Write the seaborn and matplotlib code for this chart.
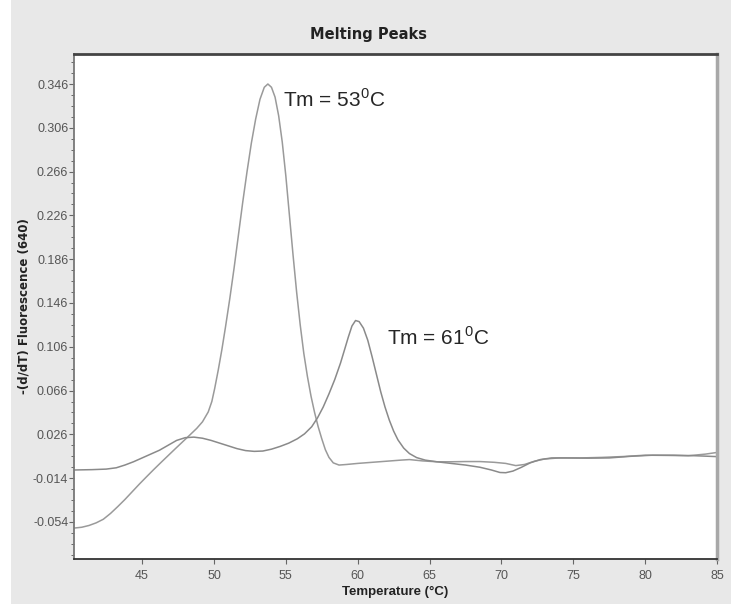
import numpy as np
import pandas as pd
import matplotlib
matplotlib.use("Agg")
import matplotlib.pyplot as plt
import seaborn as sns
from matplotlib.ticker import FixedLocator, MultipleLocator
from matplotlib.patches import Rectangle

# curve with the tall peak (Tm = 53 C)
temp_a = [40.3, 40.8, 41.3, 41.8, 42.3, 42.8, 43.3, 43.8, 44.3, 44.8,
          45.3, 45.8, 46.3, 46.8, 47.3, 47.8, 48.3, 48.8, 49.2, 49.6,
          49.85, 50.05, 50.3, 50.55, 50.8, 51.1, 51.4, 51.7, 52.0, 52.3,
          52.6, 52.9, 53.2, 53.5, 53.75, 54.0, 54.25, 54.5, 54.75, 55.0,
          55.25, 55.5, 55.75, 56.0, 56.25, 56.5, 56.75, 57.0, 57.25, 57.5,
          57.75, 58.0, 58.3, 58.7, 59.2, 60.0, 61.0, 62.0, 63.0, 63.6,
          64.5, 65.5, 66.5, 67.5, 68.5, 69.5, 70.3, 71.0, 71.6, 72.3,
          73.0, 74.0, 75.5, 77.0, 78.5, 80.0, 81.5, 83.0, 84.2, 85.0]
fluor_a = [-0.0595, -0.0588, -0.0572, -0.0548, -0.0515, -0.0462, -0.0400, -0.0335, -0.0265, -0.0195,
           -0.0128, -0.0062, 0.0002, 0.0065, 0.0128, 0.0190, 0.0252, 0.0315, 0.0375, 0.0465,
           0.0560, 0.0680, 0.0850, 0.1035, 0.1240, 0.1500, 0.1780, 0.2080, 0.2380, 0.2660,
           0.2920, 0.3140, 0.3320, 0.3430, 0.3460, 0.3430, 0.3340, 0.3170, 0.2930, 0.2620,
           0.2260, 0.1900, 0.1560, 0.1260, 0.1000, 0.0790, 0.0610, 0.0460, 0.0330, 0.0220,
           0.0120, 0.0050, 0.0000, -0.0020, -0.0015, -0.0005, 0.0005, 0.0015, 0.0025, 0.0030,
           0.0018, 0.0010, 0.0010, 0.0012, 0.0012, 0.0005, -0.0005, -0.0025, -0.0015, 0.0015,
           0.0035, 0.0045, 0.0045, 0.0050, 0.0058, 0.0070, 0.0068, 0.0065, 0.0080, 0.0095]

# curve with the lower peak (Tm = 61 C)
temp_b = [40.3, 41.5, 42.5, 43.2, 43.8, 44.4, 45.0, 45.6, 46.2, 46.8,
          47.4, 48.0, 48.6, 49.2, 49.8, 50.4, 51.0, 51.6, 52.2, 52.8,
          53.4, 54.0, 54.6, 55.2, 55.8, 56.3, 56.8, 57.2, 57.6, 58.0,
          58.4, 58.8, 59.1, 59.35, 59.6, 59.85, 60.1, 60.4, 60.7, 61.0,
          61.3, 61.6, 61.9, 62.2, 62.5, 62.8, 63.2, 63.6, 64.1, 64.7,
          65.5, 66.5, 67.5, 68.5, 69.3, 69.9, 70.3, 70.8, 71.4, 72.0,
          72.7, 73.5, 74.5, 76.0, 77.5, 79.0, 80.5, 82.0, 83.5, 85.0]
fluor_b = [-0.0065, -0.0062, -0.0057, -0.0045, -0.0020, 0.0010, 0.0045, 0.0080, 0.0115, 0.0160,
           0.0205, 0.0230, 0.0235, 0.0225, 0.0205, 0.0180, 0.0155, 0.0130, 0.0112, 0.0105,
           0.0108, 0.0125, 0.0150, 0.0180, 0.0220, 0.0265, 0.0330, 0.0410, 0.0510, 0.0630,
           0.0760, 0.0910, 0.1040, 0.1150, 0.1250, 0.1300, 0.1290, 0.1230, 0.1120, 0.0970,
           0.0810, 0.0650, 0.0510, 0.0390, 0.0290, 0.0210, 0.0135, 0.0085, 0.0048, 0.0025,
           0.0010, -0.0005, -0.0020, -0.0040, -0.0065, -0.0088, -0.0090, -0.0075, -0.0040, 0.0000,
           0.0030, 0.0045, 0.0045, 0.0043, 0.0045, 0.0060, 0.0070, 0.0070, 0.0065, 0.0057]

x_ticks = [45, 50, 55, 60, 65, 70, 75, 80, 85]
y_ticks = [-0.054, -0.014, 0.026, 0.066, 0.106, 0.146, 0.186, 0.226, 0.266, 0.306, 0.346]
y_labels = ["-0.054", "-0.014", "0.026", "0.066", "0.106", "0.146",
            "0.186", "0.226", "0.266", "0.306", "0.346"]

df = pd.concat([
    pd.DataFrame({"temp": temp_a, "fluor": fluor_a, "curve": "a"}),
    pd.DataFrame({"temp": temp_b, "fluor": fluor_b, "curve": "b"}),
])

sns.set_style("ticks")
plt.rcParams["font.family"] = ["Liberation Sans", "DejaVu Sans"]
plt.rcParams["mathtext.fontset"] = "custom"
plt.rcParams["mathtext.rm"] = "Liberation Sans"

bg = "#e8e8e8"
fig = plt.figure(figsize=(7.31, 6.04), dpi=100, facecolor=bg)
fig.patches.append(Rectangle((0, 0), 11 / 731, 1, transform=fig.transFigure,
                             facecolor="white", edgecolor="none", zorder=-1))
ax = fig.add_axes([74 / 731, 45 / 604, 643 / 731, 505 / 604])
ax.set_facecolor("white")

sns.lineplot(data=df, x="temp", y="fluor", hue="curve", sort=False,
             palette={"a": "#9a9a9a", "b": "#8a8a8a"}, linewidth=1.1,
             legend=False, ax=ax)

ax.set_xlim(40.26, 85)
ax.set_ylim(-0.0878, 0.3734)
ax.xaxis.set_major_locator(FixedLocator(x_ticks))
ax.yaxis.set_major_locator(FixedLocator(y_ticks))
ax.set_yticklabels(y_labels)
ax.yaxis.set_minor_locator(MultipleLocator(0.01, offset=0.006))

ax.tick_params(axis="both", which="major", labelsize=9, labelcolor="#555555",
               color="#666666", length=3.6, width=0.8)
ax.tick_params(axis="x", which="major", pad=4)
ax.tick_params(axis="y", which="major", pad=0.5)
ax.tick_params(axis="y", which="minor", length=2, width=0.7, color="#666666")

for side, col, lw in [("top", "#444444", 2.0), ("bottom", "#333333", 1.3),
                      ("left", "#777777", 1.3), ("right", "#a8a8a8", 2.5)]:
    ax.spines[side].set_visible(True)
    ax.spines[side].set_color(col)
    ax.spines[side].set_linewidth(lw)

ax.set_xlabel("Temperature (°C)", fontsize=9.5, fontweight="bold",
              color="#222222", labelpad=3)
ax.set_ylabel("-(d/dT) Fluorescence (640)", fontsize=8.5, fontweight="bold",
              family="DejaVu Sans", color="#222222")
ax.yaxis.set_label_coords(-0.068, 0.5)
fig.text(369 / 731, 1 - 34 / 604, "Melting Peaks", fontsize=10.5, fontweight="bold",
         family="DejaVu Sans", ha="center", va="center", color="#222222")

ax.text(54.77, 0.3253, "Tm = 53$^{0}$C", fontsize=15, va="baseline", ha="left")
ax.text(62.07, 0.1076, "Tm = 61$^{0}$C", fontsize=15, va="baseline", ha="left")

fig.savefig("out.png", dpi=100, facecolor=bg)
